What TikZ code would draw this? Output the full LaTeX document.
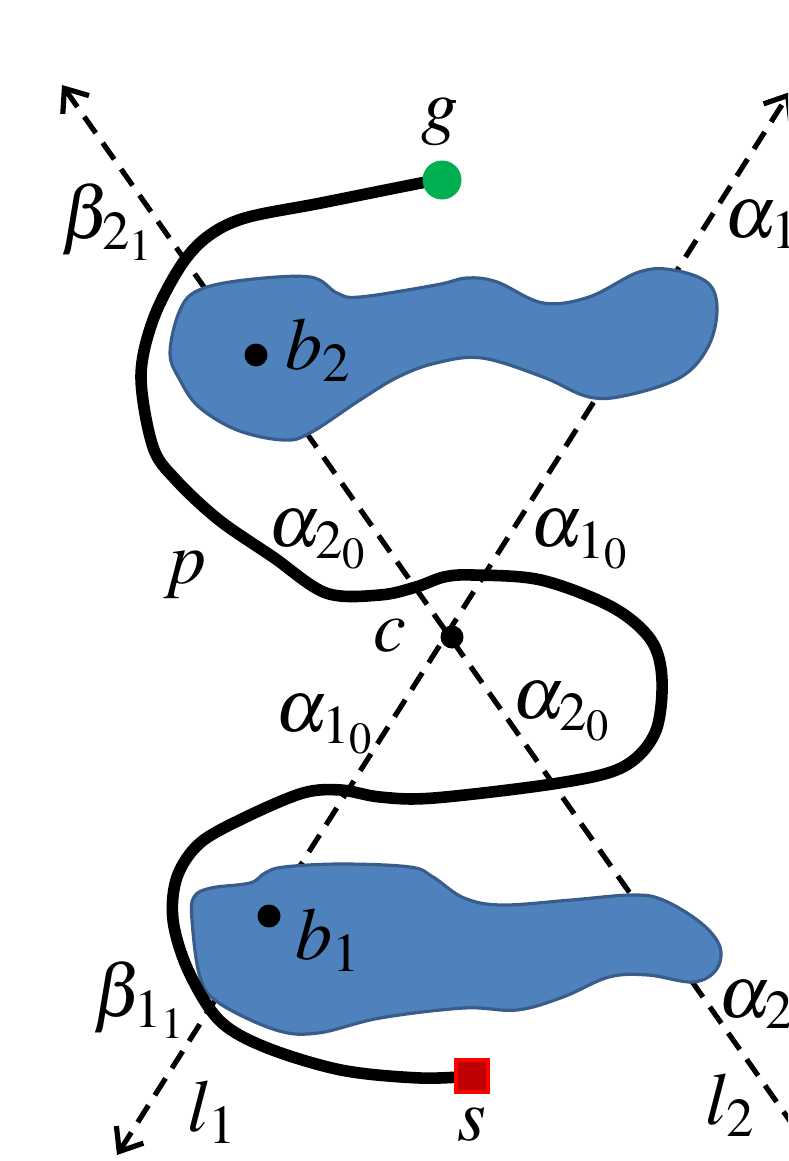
\documentclass[tikz,border=0pt]{standalone}
\usepackage{amsmath,amssymb}
\usepackage{mathptmx}
\usetikzlibrary{arrows.meta,shapes,positioning}

\definecolor{obsfill}{RGB}{79,129,189}
\definecolor{obsedge}{RGB}{56,93,138}
\definecolor{goalgreen}{RGB}{0,176,80}
\definecolor{startred}{RGB}{192,0,0}

\begin{document}
\begin{tikzpicture}[x=0.5pt, y=-0.5pt, >={Straight Barb[length=10pt,width=16pt,line width=2.6pt]},
    lbl/.style={font=\fontsize{37}{40}\selectfont, inner sep=0pt},
    guide/.style={line width=2.6pt, dash pattern=on 10pt off 6pt},
    obst/.style={fill=obsfill, draw=obsedge, line width=1.6pt},
    pathp/.style={line width=5.8pt, line cap=round, line join=round},
    ptdot/.style={circle, fill=black, inner sep=0pt, minimum size=11.5pt},
    goaldot/.style={circle, fill=goalgreen, inner sep=0pt, minimum size=19.5pt},
    startsq/.style={rectangle, fill=startred, draw=red, line width=1.6pt, inner sep=0pt, minimum size=16pt}]
    \useasboundingbox (0,0) rectangle (788,1161);
    \clip (0,0) rectangle (788,1161);

    % the two lines through c
    \coordinate (cp) at (452,637);
    \coordinate (l1a) at (117,1155);
    \coordinate (l1b) at (790,92);
    \coordinate (l2a) at (62,85);
    \coordinate (l2b) at (835,1185);
    \draw[guide, <->] (l1a) -- (l1b);
    \draw[guide, <->] (l2a) -- (l2b);

    % obstacles
    \filldraw[obst] plot[smooth cycle, tension=0.6] coordinates {
      (199,290) (245,280) (310,277) (337,293) (360,297) (436,285) (467,278) (497,282)
      (543,303) (589,297) (639,272) (673,270) (708,283) (717,310) (708,347) (681,377)
      (628,395) (589,397) (543,377) (482,358) (436,363) (398,377) (360,400) (310,433)
      (283,440) (237,430) (199,407) (180,380) (170,353) (180,310)};
    \filldraw[obst] plot[smooth cycle, tension=0.6] coordinates {
      (194,897) (211,888) (250,883) (265,873) (284,867) (341,864) (410,867) (433,877)
      (464,898) (502,905) (571,900) (632,895) (663,900) (701,923) (720,947) (716,970)
      (693,982) (648,975) (609,977) (563,997) (517,1010) (464,1008) (380,1018) (318,1033)
      (276,1030) (219,1003) (200,977) (192,920)};

    % path p from s to g
    \coordinate (sp) at (472,1076);
    \coordinate (gp) at (442,180);
    \draw[pathp] plot[smooth, tension=0.55] coordinates {
      (sp) (420,1078) (341,1070) (265,1047) (219,1020) (188,970) (173,920) (177,877)
      (200,843) (246,817) (303,793) (341,790) (380,797) (434,798) (559,783) (623,767)
      (655,733) (662,680) (651,640) (612,607) (541,580) (473,575) (444,577) (416,587)
      (380,595) (326,593) (273,557) (219,520) (176,480) (153,447) (141,377) (153,320)
      (180,267) (207,237) (245,218) (321,203) (421,183) (gp)};

    \node[startsq] (s) at (sp) {};
    \node[goaldot] (g) at (gp) {};
    \node[ptdot] (c) at (cp) {};
    \node[ptdot] (b2) at (256,355) {};
    \node[ptdot] (b1) at (269,916) {};

    % labels
    \node[lbl] (glbl) at (440,122) {$g$};
    \node[lbl] (slbl) at (472,1125) {$s$};
    \node[lbl] (clbl) at (390,636) {$c$};
    \node[lbl] (plbl) at (185,575) {$p$};
    \node[lbl] (b2lbl) at (318,350) {$b_2$};
    \node[lbl] (b1lbl) at (328,940) {$b_1$};
    \node[lbl] (l1lbl) at (212,1112) {$l_1$};
    \node[lbl] (l2lbl) at (730,1105) {$l_2$};
    \node[lbl] (beta21) at (108,222) {$\beta_{2_1}$};
    \node[lbl] (beta11) at (140,1000) {$\beta_{1_1}$};
    \node[lbl] (alpha1) at (762,225) {$\alpha_1$};
    \node[lbl] (alpha2) at (756,1005) {$\alpha_2$};
    \node[lbl] (alpha20a) at (318,540) {$\alpha_{2_0}$};
    \node[lbl] (alpha10a) at (580,540) {$\alpha_{1_0}$};
    \node[lbl] (alpha10b) at (325,725) {$\alpha_{1_0}$};
    \node[lbl] (alpha20b) at (562,712) {$\alpha_{2_0}$};
\end{tikzpicture}
\end{document}
